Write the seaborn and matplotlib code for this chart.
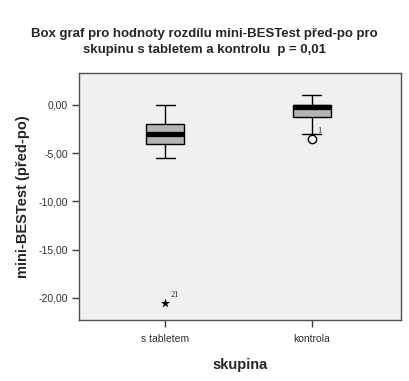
import pandas as pd
import numpy as np
import matplotlib
matplotlib.use("Agg")
import matplotlib.pyplot as plt
from matplotlib.ticker import FuncFormatter
import seaborn as sns

# ===================== Data =====================
skupiny = ["s tabletem", "kontrola"]
# rozdil mini-BESTest (pred - po), odhad z grafu; case 21 a case 1 jsou odlehle
tablet_id = [10, 11, 12, 13, 14, 15, 16, 17, 18, 19, 20, 22, 23, 24, 21]
tablet_rozdil = [0, -1, -2, -2, -2, -3, -3, -3, -3, -4, -4, -4, -5, -5.5, -20.5]
kontrola_id = [1, 2, 3, 4, 5, 6, 7, 8, 9]
kontrola_rozdil = [-3.5, -3, -1.25, -1, -0.25, 0, 0, 0.5, 1]

df = pd.DataFrame({
    "case": tablet_id + kontrola_id,
    "skupina": ["s tabletem"] * len(tablet_rozdil) + ["kontrola"] * len(kontrola_rozdil),
    "rozdil": tablet_rozdil + kontrola_rozdil,
})

# ===================== Outliers (SPSS styl) =====================
rows = []
for g, sub in df.groupby("skupina"):
    q1, q3 = np.percentile(sub["rozdil"], [25, 75])
    iqr = q3 - q1
    for _, r in sub.iterrows():
        v = r["rozdil"]
        if v < q1 - 3 * iqr or v > q3 + 3 * iqr:
            rows.append((g, v, r["case"], "extreme"))
        elif v < q1 - 1.5 * iqr or v > q3 + 1.5 * iqr:
            rows.append((g, v, r["case"], "outlier"))
out = pd.DataFrame(rows, columns=["skupina", "rozdil", "case", "typ"])

# ===================== Graf =====================
sns.set_style("white")
plt.rcParams["font.family"] = ["Liberation Sans", "DejaVu Sans"]

fig = plt.figure(figsize=(4.09, 3.81), dpi=100)
ax = fig.add_axes([0.193, 0.160, 0.787, 0.648])
ax.set_facecolor("#f0f0f0")

sns.boxplot(data=df, x="skupina", y="rozdil", order=skupiny, ax=ax,
            width=0.26, color="#b4b4b4", saturation=1, linecolor="black",
            linewidth=1, showfliers=False,
            medianprops=dict(linewidth=3.8, color="black", solid_capstyle="butt"))

ext = out[out["typ"] == "extreme"]
if len(ext):
    sns.stripplot(data=ext, x="skupina", y="rozdil", order=skupiny, jitter=False,
                  marker="*", color="black", size=7, ax=ax, zorder=5)
otl = out[out["typ"] == "outlier"]
if len(otl):
    sns.stripplot(data=otl, x="skupina", y="rozdil", order=skupiny, jitter=False,
                  marker="o", color="white", edgecolor="black", linewidth=1,
                  size=6, ax=ax, zorder=5)

for _, r in out.iterrows():
    xi = skupiny.index(r["skupina"])
    ax.annotate(str(r["case"]), (xi, r["rozdil"]), xytext=(4, 4),
                textcoords="offset points", fontsize=6, family="Liberation Serif")

ax.set_xlim(-0.59, 1.61)
ax.set_ylim(-22.3, 3.3)
ax.set_yticks([0, -5, -10, -15, -20])
ax.yaxis.set_major_formatter(FuncFormatter(lambda v, p: f"{v:.2f}".replace(".", ",")))

for s in ax.spines.values():
    s.set_color("#505050")
    s.set_linewidth(1)
ax.tick_params(axis="both", direction="out", length=5, width=1, color="#404040",
               labelsize=7.5, labelcolor="#303030", pad=3)
ax.tick_params(axis="x", pad=5)
ax.tick_params(left=True, bottom=True)

ax.set_xlabel("skupina", fontsize=10.5, fontweight="bold", labelpad=10)
ax.set_ylabel("mini-BESTest (před-po)", fontsize=10.5, fontweight="bold", labelpad=6)
fig.text(0.5, 0.891, "Box graf pro hodnoty rozdílu mini-BESTest před-po pro\n"
         "skupinu s tabletem a kontrolu  p = 0,01",
         ha="center", va="center", fontsize=9.5, fontweight="bold", linespacing=1.45)

fig.savefig("out.png", dpi=100)
